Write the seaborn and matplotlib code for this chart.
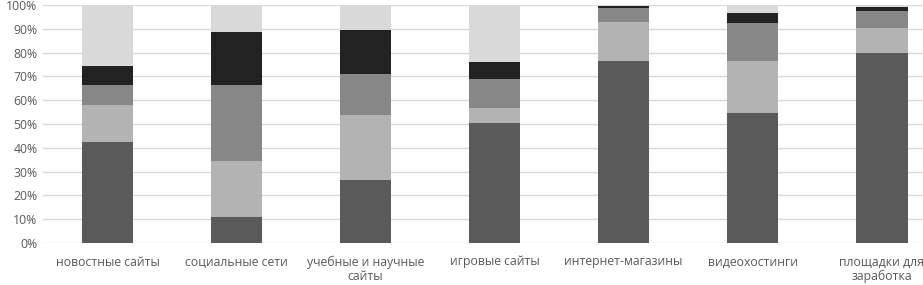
import numpy as np
import pandas as pd
import matplotlib.pyplot as plt
import seaborn as sns

# Категории и доли ответов (в %) по сегментам, снизу вверх
categories = ['новостные сайты', 'социальные сети', 'учебные и научные\nсайты',
              'игровые сайты', 'интернет-магазины', 'видеохостинги',
              'площадки для\nзаработка']
seg1 = [42.4, 11.0, 26.5, 50.5, 76.5, 54.5, 79.8]
seg2 = [15.6, 23.4, 27.3, 6.4, 16.5, 21.8, 10.5]
seg3 = [8.4, 32.1, 17.1, 12.0, 5.6, 16.3, 7.3]
seg4 = [8.1, 22.3, 18.5, 7.2, 0.8, 3.9, 1.4]
seg5 = [25.5, 11.2, 10.6, 23.9, 0.6, 3.5, 1.0]

colors = ['#5a5a5a', '#b3b3b3', '#878787', '#222222', '#d9d9d9']

df = pd.DataFrame({'cat': categories, 's1': seg1, 's2': seg2, 's3': seg3,
                   's4': seg4, 's5': seg5})
cols = ['s1', 's2', 's3', 's4', 's5']
cum = df[cols].cumsum(axis=1)
cum['cat'] = df['cat']

sns.set_style('white')
plt.rcParams['font.family'] = ['Open Sans', 'DejaVu Sans']

fig = plt.figure(figsize=(9.23, 2.85), dpi=100)
ax = fig.add_axes([43 / 923, 42 / 285, 1 - 43 / 923, 238 / 285])

# рисуем накопленные суммы сверху вниз, чтобы получился стек
for c, col in reversed(list(zip(colors, cols))):
    sns.barplot(data=cum, x='cat', y=col, color=c, width=0.4,
                saturation=1, linewidth=0, ax=ax, zorder=2)

ax.set_ylim(0, 100)
ax.set_xlim(-0.5, 6.32)
ax.set_yticks(np.arange(0, 101, 10))
ax.set_yticklabels([f'{v}%' for v in range(0, 101, 10)])
ax.yaxis.grid(True, color='#d9d9d9', linewidth=1, zorder=0)
ax.set_axisbelow(True)
for s in ax.spines.values():
    s.set_visible(False)
ax.set_xlabel('')
ax.set_ylabel('')
ax.tick_params(axis='both', length=0, labelsize=8.8, labelcolor='#595959')
ax.tick_params(axis='x', pad=9)
ax.tick_params(axis='y', pad=4)
for lbl in ax.get_xticklabels():
    lbl.set_linespacing(1.1)

fig.savefig('out.png', dpi=100)
